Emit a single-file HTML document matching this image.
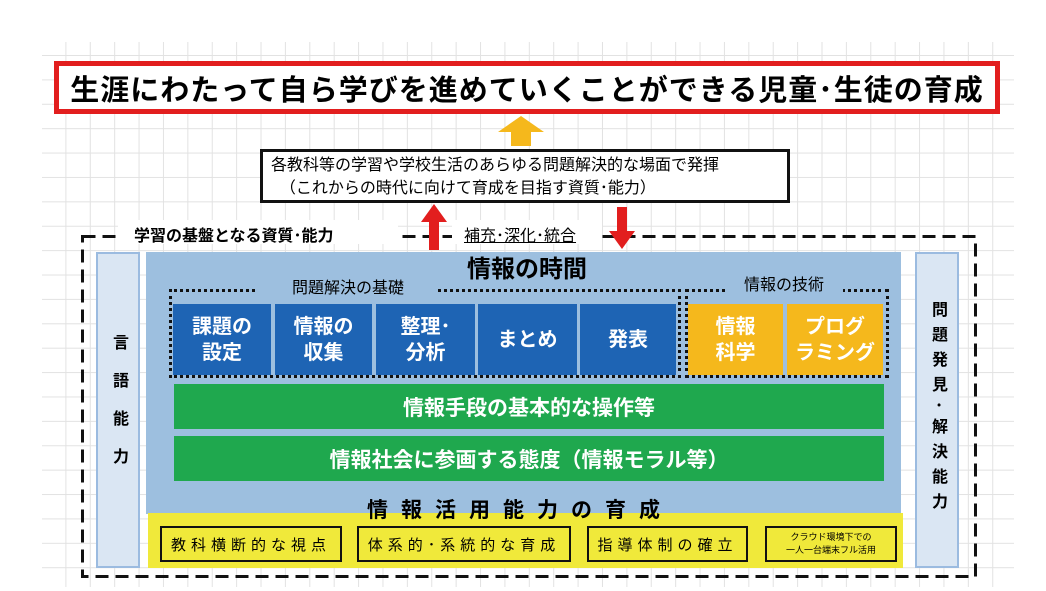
<!DOCTYPE html>
<html><head><meta charset="utf-8"><style>
*{margin:0;padding:0;box-sizing:border-box}
body{width:1046px;height:591px;position:relative;background:#fff;font-family:"Liberation Sans","Noto Sans CJK JP",sans-serif;overflow:hidden}
.a{position:absolute}
.grid{left:42px;top:42px;width:972px;height:545px;background-image:linear-gradient(to right,#e2e2e2 1px,transparent 1px),linear-gradient(to bottom,#e2e2e2 1px,transparent 1px);background-size:24.4px 24.4px;background-position:-1px 13px}
.c{display:flex;align-items:center;justify-content:center;text-align:center}
.blue{background:#1e64b4;color:#fff;font-size:20px;font-weight:bold;line-height:26px;top:304px;height:71px}
.org{background:#f5b81c;color:#fff;font-size:20px;font-weight:bold;line-height:26px;top:304px;height:71px}
.grn{background:#1fa84e;color:#fff;font-size:21px;font-weight:bold;left:174px;width:710px;height:45px}
.yb{border:2px solid #111;top:526px;height:36px;font-size:15px;letter-spacing:5px}
.side{background:#dae6f3;border:2px solid #9bbbe0;top:252px;height:316px;font-size:16px;font-weight:bold;writing-mode:vertical-rl;display:flex;align-items:center;justify-content:center}
</style></head><body>
<div class="a grid"></div>
<div class="a c" style="left:54px;top:61px;width:946px;height:53px;border:5px solid #e21e1e;background:#fff;font-size:29px;font-weight:bold;letter-spacing:1px">生涯にわたって自ら学びを進めていくことができる児童･生徒の育成</div>
<svg class="a" style="left:498px;top:116px" width="46" height="30"><polygon points="23,0 46,16 33,16 33,30 13,30 13,16 0,16" fill="#f5b81c"/></svg>
<div class="a" style="left:260px;top:149px;width:530px;height:54px;border:3px solid #111;background:#fff;font-size:16px;line-height:23px;padding:2px 0 0 8px">各教科等の学習や学校生活のあらゆる問題解決的な場面で発揮<br>&nbsp;&nbsp;（これからの時代に向けて育成を目指す資質･能力）</div>
<svg class="a" style="left:80px;top:234px" width="900" height="347"><rect x="2.5" y="2.5" width="893" height="340" fill="none" stroke="#111" stroke-width="3" stroke-dasharray="13,7"/></svg>
<div class="a" style="left:118px;top:220px;width:280px;height:24px;background:#fff;font-size:16px;font-weight:bold;padding:2px 0 0 16px">学習の基盤となる資質･能力</div>
<div class="a" style="left:452px;top:220px;width:150px;height:24px;background:#fff;font-size:16px;padding:2px 0 0 12px;text-decoration:underline">補充･深化･統合</div>
<svg class="a" style="left:421px;top:204px" width="26" height="46"><polygon points="13,0 26,18 18,18 18,46 8,46 8,18 0,18" fill="#e21e1e"/></svg>
<svg class="a" style="left:609px;top:207px" width="26" height="42"><polygon points="8,0 18,0 18,24 26,24 13,42 0,24 8,24" fill="#e21e1e"/></svg>
<div class="a side" style="left:96px;width:44px;letter-spacing:22px">言語能力</div>
<div class="a side" style="left:915px;width:44px;letter-spacing:9px">問題発見･解決能力</div>
<div class="a" style="left:146px;top:252px;width:755px;height:262px;background:#9dbfdf"></div>
<div class="a c" style="left:400px;top:250px;width:254px;height:32px;font-size:24px;font-weight:bold">情報の時間</div>
<div class="a" style="left:169px;top:289px;width:512px;height:89px;border:3px dotted #111"></div>
<div class="a c" style="left:258px;top:275px;width:180px;height:22px;background:#9dbfdf;font-size:16px">問題解決の基礎</div>
<div class="a" style="left:685px;top:289px;width:204px;height:89px;border:3px dotted #111"></div>
<div class="a c" style="left:725px;top:272px;width:118px;height:22px;background:#9dbfdf;font-size:16px">情報の技術</div>
<div class="a c blue" style="left:173px;width:98px">課題の<br>設定</div>
<div class="a c blue" style="left:275px;width:97px">情報の<br>収集</div>
<div class="a c blue" style="left:376px;width:99px">整理･<br>分析</div>
<div class="a c blue" style="left:478px;width:99px">まとめ</div>
<div class="a c blue" style="left:580px;width:96px">発表</div>
<div class="a c org" style="left:688px;width:95px">情報<br>科学</div>
<div class="a c org" style="left:787px;width:96px">プログ<br>ラミング</div>
<div class="a c grn" style="top:384px">情報手段の基本的な操作等</div>
<div class="a c grn" style="top:436px">情報社会に参画する態度（情報モラル等）</div>
<div class="a" style="left:148px;top:513px;width:755px;height:55px;background:#f0e93a"></div>
<div class="a c" style="left:300px;top:494px;width:440px;height:30px;font-size:21px;font-weight:bold;letter-spacing:13px">情報活用能力の育成</div>
<div class="a c yb" style="left:160px;width:182px">教科横断的な視点</div>
<div class="a c yb" style="left:357px;width:214px">体系的･系統的な育成</div>
<div class="a c yb" style="left:587px;width:161px">指導体制の確立</div>
<div class="a c yb" style="left:765px;width:132px;font-size:9px;letter-spacing:0;line-height:13px">クラウド環境下での<br>一人一台端末フル活用</div>
</body></html>
